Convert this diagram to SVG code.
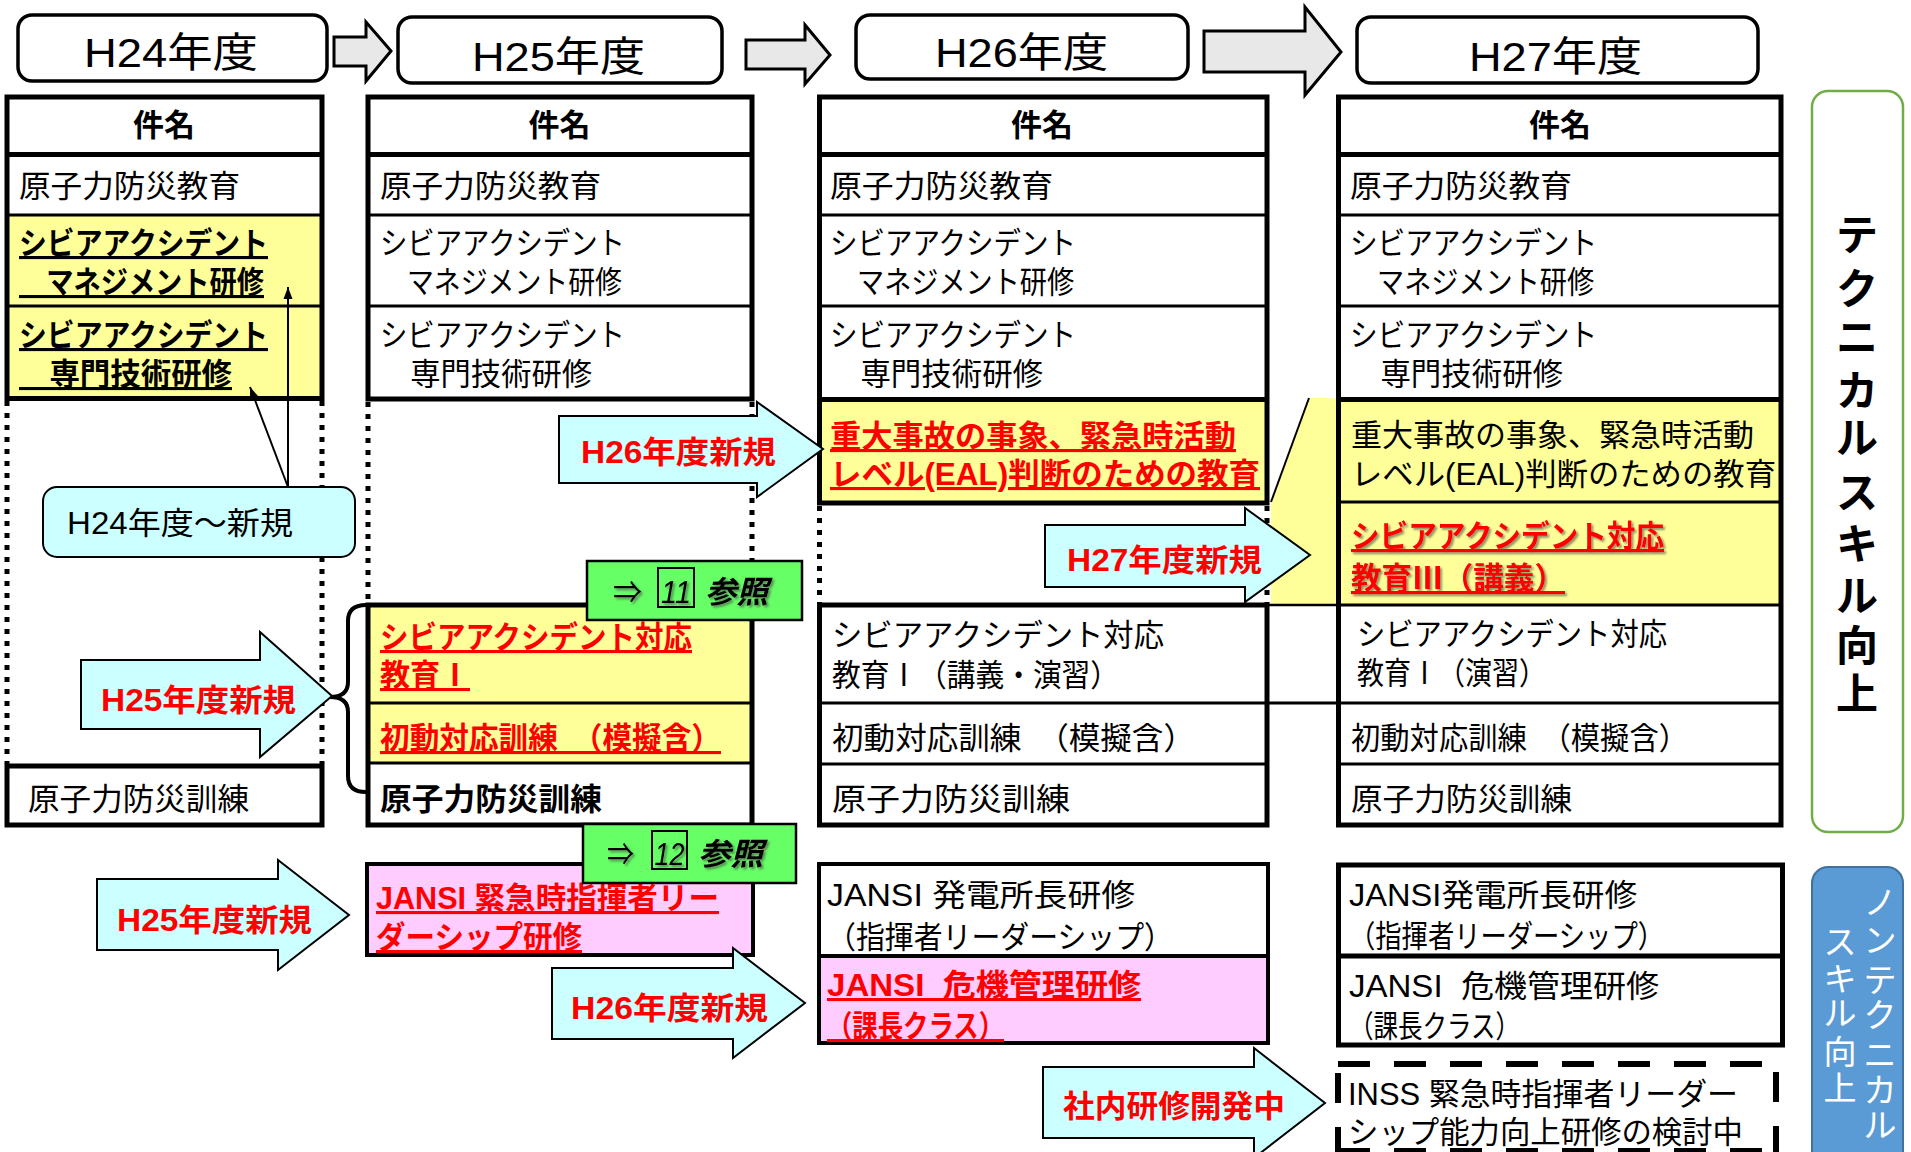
<svg xmlns="http://www.w3.org/2000/svg" width="1911" height="1152" viewBox="0 0 1911 1152">
<defs>
<style>
text{font-family:"Liberation Sans","Noto Sans CJK JP",sans-serif;font-size:31px;fill:#000}
.b{font-weight:bold}
.r{fill:#FF0000;font-weight:bold}
.u{text-decoration:underline}
.hd{font-size:41px}
.pre{white-space:pre}
.it{font-style:italic}
.th{stroke:#000;stroke-width:5;fill:none}
.ln{stroke:#000;stroke-width:3;fill:none}
.dot{stroke:#000;stroke-width:5;stroke-dasharray:5 7;fill:none}
.cy{fill:#CCFFFF;stroke:#000;stroke-width:2}
.gy{fill:#E8E8E8;stroke:#000;stroke-width:3}
.gr{fill:#66FF66;stroke:#000;stroke-width:2.5}
.yl{fill:#FFFF99}
.pk{fill:#FFCCFF}
.wh{fill:#FFFFFF}
.hb{fill:#FFFFFF;stroke:#000;stroke-width:3.5}
.vg{font-size:42px;font-weight:bold;text-anchor:middle}
.vb{font-size:33px;fill:#FFFFFF;text-anchor:middle}
.ds{stroke:#000;stroke-width:6;fill:none;stroke-dasharray:32 24}
</style>
<filter id="sh" x="-10%" y="-20%" width="130%" height="150%"><feDropShadow dx="2" dy="2" stdDeviation="1.2" flood-color="#444" flood-opacity="0.6"/></filter>
<marker id="ah" viewBox="0 0 12 10" refX="12" refY="5" markerWidth="12" markerHeight="10" markerUnits="userSpaceOnUse" orient="auto"><path d="M0,0.5 L12,5 L0,9.5 z" fill="#000"/></marker>
</defs>
<rect width="1911" height="1152" fill="#FFFFFF"/>

<!-- Year headers -->
<g id="hdr-h24"><rect class="hb" x="18" y="15" width="309" height="66" rx="14"/><text class="hd" x="84" y="67" textLength="174" lengthAdjust="spacingAndGlyphs">H24年度</text></g>
<g id="hdr-h25"><rect class="hb" x="398" y="17" width="324" height="66" rx="14"/><text class="hd" x="472" y="71" textLength="173" lengthAdjust="spacingAndGlyphs">H25年度</text></g>
<g id="hdr-h26"><rect class="hb" x="856" y="15" width="332" height="64" rx="14"/><text class="hd" x="935" y="67" textLength="173" lengthAdjust="spacingAndGlyphs">H26年度</text></g>
<g id="hdr-h27"><rect class="hb" x="1357" y="17" width="401" height="66" rx="14"/><text class="hd" x="1469" y="71" textLength="173" lengthAdjust="spacingAndGlyphs">H27年度</text></g>

<!-- Side labels -->
<g id="side-technical"><rect x="1812" y="91" width="91" height="741" rx="16" fill="#FFFFFF" stroke="#70AD47" stroke-width="2.5"/>
<text class="vg"><tspan x="1857" y="250">テ</tspan><tspan x="1857" y="304">ク</tspan><tspan x="1857" y="353">ニ</tspan><tspan x="1857" y="406">カ</tspan><tspan x="1857" y="453">ル</tspan><tspan x="1857" y="508">ス</tspan><tspan x="1857" y="559">キ</tspan><tspan x="1857" y="611">ル</tspan><tspan x="1857" y="661">向</tspan><tspan x="1857" y="709">上</tspan></text></g>
<g id="side-nontechnical"><rect x="1812" y="867" width="91" height="300" rx="16" fill="#5B9BD5" stroke="#41719C" stroke-width="2"/>
<text class="vb"><tspan x="1880" y="914">ノ</tspan><tspan x="1880" y="952">ン</tspan><tspan x="1880" y="992">テ</tspan><tspan x="1880" y="1027">ク</tspan><tspan x="1880" y="1067">ニ</tspan><tspan x="1880" y="1102">カ</tspan><tspan x="1880" y="1137">ル</tspan></text>
<text class="vb"><tspan x="1840" y="954">ス</tspan><tspan x="1840" y="991">キ</tspan><tspan x="1840" y="1025">ル</tspan><tspan x="1840" y="1064">向</tspan><tspan x="1840" y="1100">上</tspan></text></g>

<!-- H24 table -->
<g id="tbl-h24">
<rect class="yl" x="7" y="215" width="315" height="183"/>
<rect class="th" x="7" y="97" width="315" height="301.5"/>
<line class="th" x1="7" y1="154.5" x2="322" y2="154.5"/>
<line class="ln" x1="7" y1="215" x2="322" y2="215"/>
<line class="ln" x1="7" y1="306" x2="322" y2="306"/>
<line class="dot" x1="7" y1="401" x2="7" y2="764"/>
<line class="dot" x1="322" y1="401" x2="322" y2="764"/>
<rect class="th" x="7" y="766" width="315" height="59" fill="#FFFFFF"/>
<text class="b" x="164" y="136" text-anchor="middle">件名</text>
<text x="19" y="197" textLength="221" lengthAdjust="spacingAndGlyphs">原子力防災教育</text>
<text class="b u" x="19" y="254" textLength="249" lengthAdjust="spacingAndGlyphs">シビアアクシデント</text>
<text class="b u" x="19" y="293" textLength="245" lengthAdjust="spacingAndGlyphs">　マネジメント研修</text>
<text class="b u" x="19" y="346" textLength="249" lengthAdjust="spacingAndGlyphs">シビアアクシデント</text>
<text class="b u" x="19" y="385" textLength="213" lengthAdjust="spacingAndGlyphs">　専門技術研修</text>
<text x="28" y="810" textLength="221" lengthAdjust="spacingAndGlyphs">原子力防災訓練</text>
</g>

<!-- H25 table -->
<g id="tbl-h25">
<rect class="th" x="368" y="97" width="384" height="302" fill="#FFFFFF"/>
<line class="th" x1="368" y1="154.5" x2="752" y2="154.5"/>
<line class="ln" x1="368" y1="215" x2="752" y2="215"/>
<line class="ln" x1="368" y1="306" x2="752" y2="306"/>
<line class="dot" x1="368" y1="402" x2="368" y2="603"/>
<line class="dot" x1="752" y1="402" x2="752" y2="603"/>
<rect class="yl" x="368" y="605" width="384" height="158"/>
<rect class="th" x="368" y="605" width="384" height="220"/>
<line class="ln" x1="368" y1="703" x2="752" y2="703"/>
<line class="ln" x1="368" y1="763" x2="752" y2="763"/>
<text class="b" x="559.5" y="136" text-anchor="middle">件名</text>
<text x="380" y="197" textLength="221" lengthAdjust="spacingAndGlyphs">原子力防災教育</text>
<text x="380" y="254" textLength="245" lengthAdjust="spacingAndGlyphs">シビアアクシデント</text>
<text x="380" y="293" textLength="242" lengthAdjust="spacingAndGlyphs">　マネジメント研修</text>
<text x="380" y="346" textLength="245" lengthAdjust="spacingAndGlyphs">シビアアクシデント</text>
<text x="380" y="385" textLength="212" lengthAdjust="spacingAndGlyphs">　専門技術研修</text>
<text class="r u" x="380" y="648" textLength="312" lengthAdjust="spacingAndGlyphs">シビアアクシデント対応</text>
<text class="r u" x="380" y="686" textLength="90" lengthAdjust="spacingAndGlyphs">教育Ⅰ</text>
<text class="r u" x="380" y="749" textLength="341" lengthAdjust="spacingAndGlyphs">初動対応訓練　（模擬含）</text>
<text class="b" x="380" y="810" textLength="222" lengthAdjust="spacingAndGlyphs">原子力防災訓練</text>
</g>

<!-- H26 table -->
<g id="tbl-h26">
<rect class="yl" x="819.5" y="400" width="447.5" height="103"/>
<rect class="th" x="819.5" y="97" width="447.5" height="406" fill="none"/>
<line class="th" x1="819.5" y1="154.5" x2="1267" y2="154.5"/>
<line class="ln" x1="819.5" y1="215" x2="1267" y2="215"/>
<line class="ln" x1="819.5" y1="306" x2="1267" y2="306"/>
<line class="th" x1="819.5" y1="399.5" x2="1267" y2="399.5"/>
<line class="dot" x1="819.5" y1="506" x2="819.5" y2="603"/>
<line class="dot" x1="1267" y1="506" x2="1267" y2="603"/>
<rect class="th" x="819.5" y="605" width="447.5" height="220" fill="#FFFFFF"/>
<line class="ln" x1="819.5" y1="703" x2="1267" y2="703"/>
<line class="ln" x1="819.5" y1="764" x2="1267" y2="764"/>
<text class="b" x="1042" y="136" text-anchor="middle">件名</text>
<text x="830" y="197" textLength="223" lengthAdjust="spacingAndGlyphs">原子力防災教育</text>
<text x="830" y="254" textLength="246" lengthAdjust="spacingAndGlyphs">シビアアクシデント</text>
<text x="830" y="293" textLength="244" lengthAdjust="spacingAndGlyphs">　マネジメント研修</text>
<text x="830" y="346" textLength="246" lengthAdjust="spacingAndGlyphs">シビアアクシデント</text>
<text x="830" y="385" textLength="213" lengthAdjust="spacingAndGlyphs">　専門技術研修</text>
<text class="r u" x="830" y="447" textLength="406" lengthAdjust="spacingAndGlyphs">重大事故の事象、緊急時活動</text>
<text class="r u" x="830" y="485" textLength="430" lengthAdjust="spacingAndGlyphs">レベル(EAL)判断のための教育</text>
<text x="832" y="646" textLength="332" lengthAdjust="spacingAndGlyphs">シビアアクシデント対応</text>
<text x="832" y="686" textLength="287" lengthAdjust="spacingAndGlyphs">教育Ⅰ（講義・演習）</text>
<text x="832" y="749" textLength="363" lengthAdjust="spacingAndGlyphs">初動対応訓練　（模擬含）</text>
<text x="832" y="810" textLength="238" lengthAdjust="spacingAndGlyphs">原子力防災訓練</text>
</g>

<!-- H27 callout shape -->
<g id="h27-callout">
<polygon class="yl" points="1309,398 1338,398 1338,605 1271,605 1271,502"/>
<line x1="1309" y1="398" x2="1271" y2="502" stroke="#000" stroke-width="2"/>
</g>

<!-- H27 table -->
<g id="tbl-h27">
<rect class="wh" x="1338.5" y="97" width="442.5" height="728"/>
<rect class="yl" x="1338.5" y="400" width="442.5" height="205"/>
<rect class="th" x="1338.5" y="97" width="442.5" height="728"/>
<line class="th" x1="1338.5" y1="154.5" x2="1781" y2="154.5"/>
<line class="ln" x1="1338.5" y1="215" x2="1781" y2="215"/>
<line class="ln" x1="1338.5" y1="306" x2="1781" y2="306"/>
<line class="th" x1="1338.5" y1="399.5" x2="1781" y2="399.5"/>
<line class="ln" x1="1338.5" y1="502" x2="1781" y2="502"/>
<line class="ln" x1="1338.5" y1="605" x2="1781" y2="605"/>
<line class="ln" x1="1338.5" y1="703" x2="1781" y2="703"/>
<line class="ln" x1="1338.5" y1="764" x2="1781" y2="764"/>
<text class="b" x="1560" y="136" text-anchor="middle">件名</text>
<text x="1350" y="197" textLength="222" lengthAdjust="spacingAndGlyphs">原子力防災教育</text>
<text x="1350" y="254" textLength="247" lengthAdjust="spacingAndGlyphs">シビアアクシデント</text>
<text x="1350" y="293" textLength="244" lengthAdjust="spacingAndGlyphs">　マネジメント研修</text>
<text x="1350" y="346" textLength="247" lengthAdjust="spacingAndGlyphs">シビアアクシデント</text>
<text x="1350" y="385" textLength="213" lengthAdjust="spacingAndGlyphs">　専門技術研修</text>
<text x="1351" y="446" textLength="403" lengthAdjust="spacingAndGlyphs">重大事故の事象、緊急時活動</text>
<text x="1351" y="485" textLength="425" lengthAdjust="spacingAndGlyphs">レベル(EAL)判断のための教育</text>
<text class="r u" x="1351" y="547" textLength="313" lengthAdjust="spacingAndGlyphs" filter="url(#sh)">シビアアクシデント対応</text>
<text class="r u" x="1351" y="589" textLength="214" lengthAdjust="spacingAndGlyphs" filter="url(#sh)">教育Ⅲ（講義）</text>
<text x="1357" y="645" textLength="310" lengthAdjust="spacingAndGlyphs">シビアアクシデント対応</text>
<text x="1357" y="684" textLength="189" lengthAdjust="spacingAndGlyphs">教育Ⅰ（演習）</text>
<text x="1351" y="749" textLength="337" lengthAdjust="spacingAndGlyphs">初動対応訓練　（模擬含）</text>
<text x="1351" y="810" textLength="221" lengthAdjust="spacingAndGlyphs">原子力防災訓練</text>
</g>

<!-- JANSI / INSS boxes -->
<g id="h25-jansi">
<rect class="pk" x="367" y="864" width="386" height="91" stroke="#000" stroke-width="4"/>
<text class="r u" x="376" y="909" textLength="343" lengthAdjust="spacingAndGlyphs">JANSI 緊急時指揮者リー</text>
<text class="r u" x="376" y="948" textLength="206" lengthAdjust="spacingAndGlyphs">ダーシップ研修</text>
</g>
<g id="h26-jansi">
<rect class="wh" x="819" y="864" width="449" height="92"/>
<rect class="pk" x="819" y="956" width="449" height="87"/>
<rect x="819" y="864" width="449" height="179" fill="none" stroke="#000" stroke-width="4"/>
<line x1="819" y1="956" x2="1268" y2="956" stroke="#000" stroke-width="4"/>
<text x="827" y="906" textLength="308" lengthAdjust="spacingAndGlyphs">JANSI 発電所長研修</text>
<text x="827" y="948" textLength="346" lengthAdjust="spacingAndGlyphs">（指揮者リーダーシップ）</text>
<text class="r u pre" x="827" y="996" textLength="314" lengthAdjust="spacingAndGlyphs">JANSI  危機管理研修</text>
<text class="r u" x="827" y="1037" textLength="177" lengthAdjust="spacingAndGlyphs">（課長クラス）</text>
</g>
<g id="h27-jansi">
<rect x="1338.5" y="865" width="444" height="180" fill="#FFFFFF" stroke="#000" stroke-width="5"/>
<line x1="1338.5" y1="956" x2="1782.5" y2="956" stroke="#000" stroke-width="5"/>
<text x="1349" y="906" textLength="288" lengthAdjust="spacingAndGlyphs">JANSI発電所長研修</text>
<text x="1349" y="947" textLength="315" lengthAdjust="spacingAndGlyphs">（指揮者リーダーシップ）</text>
<text class="pre" x="1349" y="997" textLength="310" lengthAdjust="spacingAndGlyphs">JANSI  危機管理研修</text>
<text x="1349" y="1037" textLength="171" lengthAdjust="spacingAndGlyphs">（課長クラス）</text>
</g>
<g id="inss">
<line class="ds" x1="1338" y1="1064" x2="1776" y2="1064"/>
<line class="ds" x1="1338" y1="1073" x2="1338" y2="1160" style="stroke-dasharray:30 24"/>
<line class="ds" x1="1776" y1="1072" x2="1776" y2="1160" style="stroke-dasharray:30 24"/>
<line class="ds" x1="1338" y1="1151" x2="1776" y2="1151"/>
<text x="1348" y="1105" textLength="390" lengthAdjust="spacingAndGlyphs">INSS 緊急時指揮者リーダー</text>
<text x="1348" y="1143" textLength="395" lengthAdjust="spacingAndGlyphs">シップ能力向上研修の検討中</text>
</g>

<!-- Connectors -->
<g id="connectors">
<polygon class="gy" points="334,37 366,37 366,22 391,51 366,81 366,66 334,66"/>
<polygon class="gy" points="746,40 805,40 805,25 830,55 805,84 805,69 746,69"/>
<polygon class="gy" points="1204,31 1305,31 1305,7 1341,52 1305,95 1305,72 1204,72"/>
<line x1="1267" y1="605" x2="1338" y2="605" stroke="#000" stroke-width="2.5"/>
<line x1="1267" y1="703" x2="1338" y2="703" stroke="#000" stroke-width="3"/>
<path d="M366,605 Q348,605 348,621 L348,682 Q348,697 330,697 Q348,697 348,712 L348,776 Q348,792 366,792" fill="none" stroke="#000" stroke-width="4"/>
<line x1="288" y1="487" x2="288" y2="287" stroke="#000" stroke-width="2" marker-end="url(#ah)"/>
<line x1="288" y1="487" x2="250" y2="387" stroke="#000" stroke-width="2" marker-end="url(#ah)"/>
</g>

<!-- Callout label -->
<g id="lbl-h24new">
<rect class="cy" x="43" y="487" width="312" height="70" rx="14"/>
<text x="67" y="534" textLength="226" lengthAdjust="spacingAndGlyphs">H24年度～新規</text>
</g>

<!-- Cyan block arrows -->
<g id="arr-h26new-a">
<polygon class="cy" points="559,416 757,416 757,402 823,449 757,497 757,483 559,483"/>
<text class="r" x="581" y="463" textLength="195" lengthAdjust="spacingAndGlyphs">H26年度新規</text>
</g>
<g id="arr-h25new-a">
<polygon class="cy" points="81,660 260,660 260,632 332,696 260,757 260,729 81,729"/>
<text class="r" x="101" y="711" textLength="195" lengthAdjust="spacingAndGlyphs">H25年度新規</text>
</g>
<g id="arr-h27new">
<polygon class="cy" points="1045,525 1245,525 1245,508 1310,555 1245,602 1245,587 1045,587"/>
<text class="r" x="1067" y="571" textLength="195" lengthAdjust="spacingAndGlyphs">H27年度新規</text>
</g>
<g id="arr-h25new-b">
<polygon class="cy" points="97,879 278,879 278,860 349,915 278,970 278,950 97,950"/>
<text class="r" x="117" y="931" textLength="195" lengthAdjust="spacingAndGlyphs">H25年度新規</text>
</g>
<g id="arr-h26new-b">
<polygon class="cy" points="552,968 733,968 733,948 805,1003 733,1058 733,1039 552,1039"/>
<text class="r" x="571" y="1019" textLength="197" lengthAdjust="spacingAndGlyphs">H26年度新規</text>
</g>
<g id="arr-inhouse">
<polygon class="cy" points="1043,1067 1254,1067 1254,1048 1325,1103 1254,1158 1254,1138 1043,1138"/>
<text class="r" x="1063" y="1117" textLength="222" lengthAdjust="spacingAndGlyphs">社内研修開発中</text>
</g>

<!-- Reference boxes -->
<g id="ref-11">
<rect class="gr" x="587" y="561" width="215" height="59"/>
<text x="613" y="603" textLength="29" lengthAdjust="spacingAndGlyphs" filter="url(#sh)">⇒</text>
<rect x="658" y="568" width="36" height="39" fill="none" stroke="#000" stroke-width="2"/>
<text class="it" x="676" y="603" text-anchor="middle" textLength="30" lengthAdjust="spacingAndGlyphs" filter="url(#sh)">11</text>
<text class="it b" x="705" y="603" textLength="63" lengthAdjust="spacingAndGlyphs" filter="url(#sh)">参照</text>
</g>
<g id="ref-12">
<rect class="gr" x="583" y="824" width="213" height="59"/>
<text x="607" y="865" textLength="27" lengthAdjust="spacingAndGlyphs" filter="url(#sh)">⇒</text>
<rect x="652" y="831" width="35" height="38" fill="none" stroke="#000" stroke-width="2"/>
<text class="it" x="669.5" y="865" text-anchor="middle" textLength="30" lengthAdjust="spacingAndGlyphs" filter="url(#sh)">12</text>
<text class="it b" x="698" y="865" textLength="65" lengthAdjust="spacingAndGlyphs" filter="url(#sh)">参照</text>
</g>
</svg>
